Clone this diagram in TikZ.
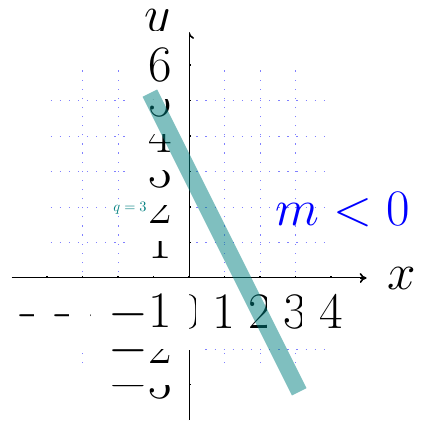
\documentclass[tikz,border=0pt]{standalone}
\usepackage{fix-cm}
\usepackage{tikz}
\usetikzlibrary{arrows.meta, positioning}

\begin{document}
\begin{tikzpicture}[
  gridline/.style={blue!50, line width=0.8pt, dash pattern=on 1pt off 6.3pt},
  axis/.style={-{To[length=5.5pt, width=8pt]}, line width=1.3pt},
  tick/.style={line width=1pt},
  ticklabel/.style={fill=white, inner sep=13.67pt, font=\fontsize{41}{49}\selectfont},
  axislabel/.style={inner sep=13.67pt, font=\fontsize{41}{49}\selectfont},
  slopeline/.style={draw=teal, opacity=0.5, line width=0.46cm, line cap=rect},
  note/.style={text=teal, fill=white, inner sep=0.5pt, font=\fontsize{11.5}{13}\selectfont},
  slopelabel/.style={text=blue, font=\fontsize{41}{49}\selectfont}
]
  \useasboundingbox (-5.324,-4.056) rectangle (6.732,7.831);

  % grid
  \draw[gridline] (-3.9,-2.4) grid (3.9,5.9);

  % axes
  \coordinate (xmin) at (-5,0);
  \coordinate (xmax) at (5,0);
  \coordinate (ymin) at (0,-4);
  \coordinate (ymax) at (0,6.93);
  \draw[axis] (xmin) -- (xmax);
  \draw[axis] (ymin) -- (ymax);
  \foreach \x in {-4,...,4} \draw[tick] (\x,-0.07) -- (\x,0.07);
  \foreach \y in {-3,...,6} \draw[tick] (-0.07,\y) -- (0.07,\y);
  \node[axislabel, right=0.1cm of xmax] (xlab) {$x$};
  \node[axislabel] (ylab) at (-0.87,7.1) {$y$};

  % tick labels
  \foreach \x in {-4,...,4} \node[ticklabel, below] (xl\x) at (\x,0) {$\x$};
  \foreach \y in {-3,-2,-1,1,2,3,4,5,6} \node[ticklabel, left] (yl\y) at (0,\y) {$\y$};

  % line
  \coordinate (p1) at (-1,5);
  \coordinate (p2) at (3,-3);
  \draw[slopeline] (p1) -- (p2);

  \node[note] (qlab) at (-1.66,1.97) {$q=3$};
  \node[slopelabel] (mlab) at (4.34,1.92) {$m<0$};
\end{tikzpicture}
\end{document}
